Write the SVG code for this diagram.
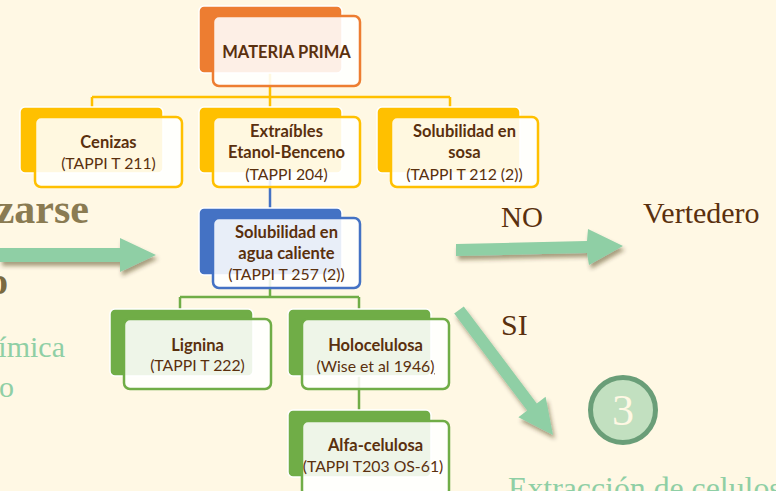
<svg xmlns="http://www.w3.org/2000/svg" width="776" height="491" viewBox="0 0 776 491">
<defs>
<style>
.bg{fill:#FFF8E4}
.back{stroke:#FFFFFF;stroke-width:1.5}
.front{fill:#FFFFFF;fill-opacity:0.88;stroke-width:2.5}
.o{fill:#ED7D31}.os{stroke:#ED7D31}
.y{fill:#FFC000}.ys{stroke:#FFC000}
.b{fill:#4472C4}.bs{stroke:#4472C4}
.g{fill:#70AD47}.gs{stroke:#70AD47}
.t{font-family:Lato,"Liberation Sans",sans-serif;font-size:15.8px;fill:#5A300E;text-anchor:middle}
.tb{font-weight:bold;font-size:16.5px}
.line{fill:none;stroke-width:2.5}
.arrow{fill:#8FCFA5;filter:url(#sh)}
.serif{font-family:"Liberation Serif","Times New Roman",serif}
</style>
<filter id="sh" x="-20%" y="-30%" width="150%" height="170%">
<feDropShadow dx="2" dy="4" stdDeviation="2" flood-color="#3b2a10" flood-opacity="0.45"/>
</filter>
</defs>
<rect class="bg" x="0" y="0" width="776" height="491"/>

<g id="slide-text">
<text class="serif" x="89" y="223" text-anchor="end" font-size="42" font-weight="bold" fill="#8A7B52">zarse</text>
<text class="serif" x="8" y="294" text-anchor="end" font-size="38" font-weight="bold" fill="#7A6A40">o</text>
<text class="serif" x="65" y="357" text-anchor="end" font-size="30" fill="#8FCFA5">ímica</text>
<text class="serif" x="14" y="397" text-anchor="end" font-size="30" fill="#8FCFA5">o</text>
<text class="serif" x="501" y="227" font-size="29" fill="#5A300E">NO</text>
<text class="serif" x="643" y="223" font-size="30" fill="#5A300E">Vertedero</text>
<text class="serif" x="501" y="335" font-size="30" fill="#5A300E">SI</text>
<text class="serif" x="508" y="499" font-size="31.8" fill="#8FCFA5">Extracción de celulosa</text>
</g>

<g id="arrows">
<polygon class="arrow" points="0,248 120,248 120,238 156,255 120,272 120,262 0,262"/>
<polygon class="arrow" points="456,244 587,241 588,229 623,246 589,265 587,253 456,256"/>
<polygon class="arrow" points="454.2,313.6 463.8,306.4 536.8,403.4 545.6,396.8 553,435 518.4,417.2 527.2,410.6"/>
</g>

<g id="circle-3">
<circle cx="623" cy="410" r="32.5" fill="#C2E0C0" stroke="#6A9E78" stroke-width="5"/>
<text class="serif" x="623" y="425" text-anchor="middle" font-size="44" fill="#FFF8E4">3</text>
</g>

<g id="connectors">
<path class="line ys" d="M270,73 V97 M92,97 H450 M92,97 V107 M270,97 V107 M450,97 V107"/>
<path class="line bs" d="M270,175 V208"/>
<path class="line gs" d="M270,278 V297 M180,297 H359 M180,297 V309 M359,297 V309 M359,376 V411"/>
</g>

<g id="materia-prima">
<rect class="back o" x="199" y="6" width="143" height="67" rx="5"/>
<rect class="front os" x="213" y="16" width="147" height="70" rx="6"/>
<text class="t tb" x="286.5" y="58">MATERIA PRIMA</text>
</g>

<g id="cenizas">
<rect class="back y" x="20" y="107" width="143" height="66" rx="5"/>
<rect class="front ys" x="35" y="117" width="147" height="70" rx="6"/>
<text class="t tb" x="108.5" y="148">Cenizas</text>
<text class="t" x="108.5" y="169">(TAPPI T 211)</text>
</g>

<g id="extraibles">
<rect class="back y" x="199" y="107" width="143" height="66" rx="5"/>
<rect class="front ys" x="213" y="117" width="147" height="70" rx="6"/>
<text class="t tb" x="286.5" y="137">Extraíbles</text>
<text class="t tb" x="286.5" y="158">Etanol-Benceno</text>
<text class="t" x="286.5" y="180">(TAPPI 204)</text>
</g>

<g id="solubilidad-sosa">
<rect class="back y" x="377" y="107" width="143" height="66" rx="5"/>
<rect class="front ys" x="391" y="117" width="147" height="70" rx="6"/>
<text class="t tb" x="464.5" y="137">Solubilidad en</text>
<text class="t tb" x="464.5" y="158">sosa</text>
<text class="t" x="464.5" y="180">(TAPPI T 212 (2))</text>
</g>

<g id="solubilidad-agua">
<rect class="back b" x="199" y="208" width="143" height="67" rx="5"/>
<rect class="front bs" x="213" y="218" width="147" height="70" rx="6"/>
<text class="t tb" x="286.5" y="238">Solubilidad en</text>
<text class="t tb" x="286.5" y="259">agua caliente</text>
<text class="t" x="286.5" y="280">(TAPPI T 257 (2))</text>
</g>

<g id="lignina">
<rect class="back g" x="110" y="309" width="143" height="67" rx="5"/>
<rect class="front gs" x="124" y="319" width="147" height="70" rx="6"/>
<text class="t tb" x="197.5" y="351">Lignina</text>
<text class="t" x="197.5" y="371">(TAPPI T 222)</text>
</g>

<g id="holocelulosa">
<rect class="back g" x="288" y="309" width="143" height="67" rx="5"/>
<rect class="front gs" x="302" y="319" width="147" height="70" rx="6"/>
<text class="t tb" x="375.5" y="351">Holocelulosa</text>
<text class="t" x="375.5" y="372">(Wise et al 1946<tspan text-decoration="underline">)</tspan></text>
</g>

<g id="alfa-celulosa">
<rect class="back g" x="288" y="410" width="143" height="67" rx="5"/>
<rect class="front gs" x="302" y="421" width="147" height="75" rx="6"/>
<text class="t tb" x="375.5" y="451">Alfa-celulosa</text>
<text class="t" x="373" y="472">(TAPPI T203 OS-61)</text>
</g>
</svg>
